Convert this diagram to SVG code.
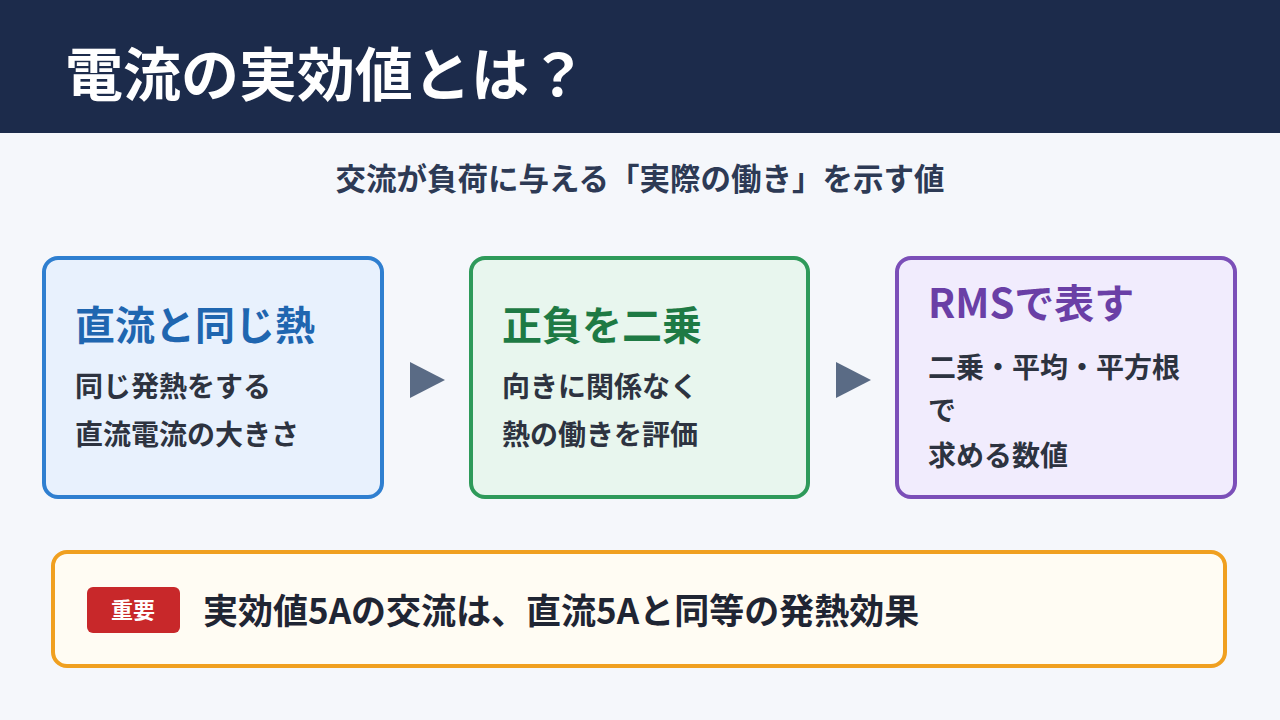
<svg xmlns="http://www.w3.org/2000/svg" width="1280" height="720" viewBox="0 0 1280 720">
<style>
text{font-family:"Noto Sans CJK JP","Noto Sans",sans-serif;font-weight:700}
.t{font-size:40px}.b{font-size:28px;fill:#2d3340}
</style>
<rect width="1280" height="720" fill="#f5f7fb"/>
<rect width="1280" height="133" fill="#1c2b4b"/>
<text x="65" y="96" font-size="58" fill="#fff">電流の実効値とは？</text>
<text x="640" y="190" font-size="30.5" fill="#2d3a55" text-anchor="middle">交流が負荷に与える「実際の働き」を示す値</text>
<g id="n1"><rect x="44" y="258" width="338" height="239" rx="14" fill="#e8f1fd" stroke="#2f7fd0" stroke-width="4"/>
<text class="t" x="75" y="340" fill="#1f66b0">直流と同じ熱</text>
<text class="b" x="75" y="397">同じ発熱をする</text><text class="b" x="75" y="445">直流電流の大きさ</text></g>
<g id="n2"><rect x="471" y="258" width="337" height="239" rx="14" fill="#e8f6ee" stroke="#2e9a5a" stroke-width="4"/>
<text class="t" x="502" y="340" fill="#1e7a44">正負を二乗</text>
<text class="b" x="502" y="397">向きに関係なく</text><text class="b" x="502" y="445">熱の働きを評価</text></g>
<g id="n3"><rect x="897" y="258" width="338" height="239" rx="14" fill="#f1ecfd" stroke="#7b4fb8" stroke-width="4"/>
<text class="t" x="928" y="318" fill="#6a3fa6">RMSで表す</text>
<text class="b" x="928" y="378">二乗・平均・平方根</text><text class="b" x="928" y="421">で</text><text class="b" x="928" y="466">求める数値</text></g>
<g id="connectors" fill="#5a6b85"><polygon points="410,362 445,380 410,398"/><polygon points="836,362 871,380 836,398"/></g>
<g id="note"><rect x="53" y="552" width="1172" height="114" rx="14" fill="#fffcf3" stroke="#f0a020" stroke-width="4"/>
<rect x="87" y="587" width="93" height="46" rx="6" fill="#c8282a"/>
<text x="133" y="618" font-size="22" fill="#fff" text-anchor="middle">重要</text>
<text x="203" y="624" font-size="35" fill="#1f2533">実効値5Aの交流は、直流5Aと同等の発熱効果</text></g>
</svg>
